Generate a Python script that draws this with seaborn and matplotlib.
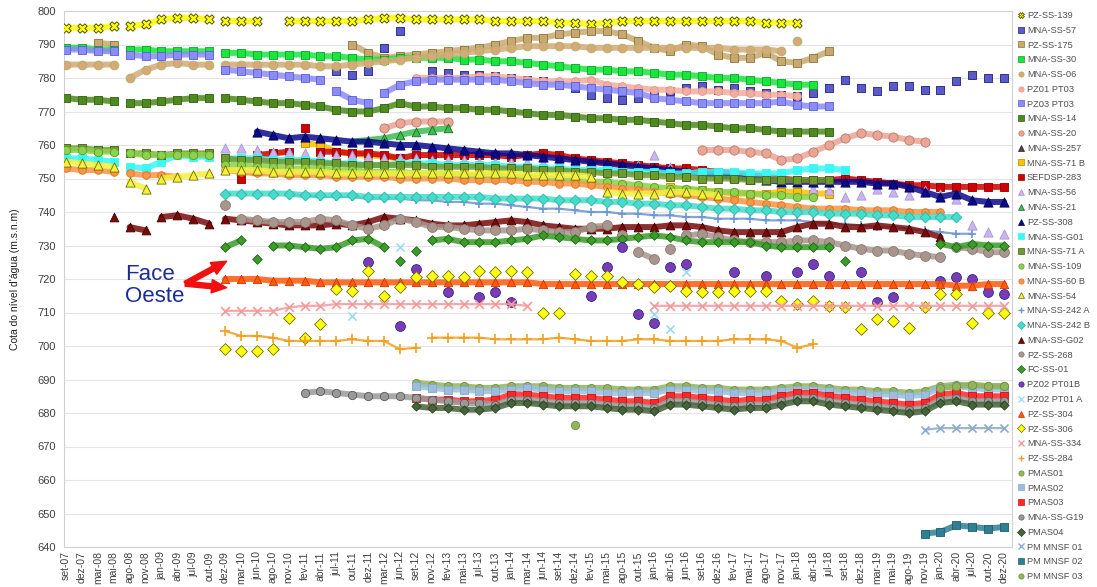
import numpy as np
import pandas as pd
import matplotlib
matplotlib.use("Agg")
import matplotlib.pyplot as plt
from matplotlib.lines import Line2D
import seaborn as sns

_ = None
N_DATES = 60

dates = ["set-07", "dez-07", "mar-08", "mai-08", "ago-08", "nov-08", "jan-09", "abr-09", "jul-09", "out-09",
         "dez-09", "mar-10", "jun-10", "ago-10", "nov-10", "fev-11", "abr-11", "jul-11", "out-11", "dez-11",
         "mar-12", "jun-12", "set-12", "nov-12", "fev-13", "mai-13", "jul-13", "out-13", "jan-14", "mar-14",
         "jun-14", "set-14", "dez-14", "fev-15", "mai-15", "ago-15", "out-15", "jan-16", "abr-16", "jun-16",
         "set-16", "dez-16", "fev-17", "mai-17", "ago-17", "nov-17", "jan-18", "abr-18", "jul-18", "set-18",
         "dez-18", "mar-19", "mai-19", "ago-19", "nov-19", "jan-20", "abr-20", "jul-20", "out-20", "dez-20"]

# survey campaigns ended after these dates (no continuity across them)
campaign_ends = ["mai-08", "out-09"]

pz_ss_139 = [795, 795, 795, 795.5, 795.5, 796, 797.5, 798, 798, 797.5,
             797, 797, 797, _, 797, 797, 797, 797, 797, 797.5,
             798, 798, 797.5, 797.5, 797.5, 797.5, 797.5, 797, 797, 797,
             797, 796.5, 796.5, 796, 796.5, 797, 797, 797, 797, 797,
             797, 797, 797, 797, 796.5, 796.5, 796.5]
mna_ss_57 = [_] * 17 + [782, 781, 782, 789, 794, _, 782, 781.5, 781, 781, 780.5, 780, 779.5,
                        779, 778, 777, 775, 774, 773.5, 774, 775, 776, 777,
                        777.5, 776.5, 777, 776, 775.5, 775, 774.5, 775.5, 777, 779.5,
                        777, 776, 777.5, 777.5, 776.5, 776.5, 779, 781, 780, 780]
pz_ss_175 = [_, _, 790.5, 790] + [_] * 14 + [790, 787.5, 786, 786.5, 787, 787.5, 788, 788.5, 789, 790, 791, 792,
                                           792, 793, 793.5, 794, 794, 793, 791, 789, 788, 790,
                                           789.5, 787, 786, 786, 787.5, 785, 784.5, 786, 788]
mna_ss_30 = [789, 789, 788.5, 788.5, 788.5, 788.5, 788, 788, 788, 788,
             787.5, 787.5, 787, 787, 787, 787, 786.5, 786.5, 786, 785.5,
             785.5, 786, 786, 786, 786, 785.5, 785.5, 785, 785, 784.5,
             784, 783.5, 783, 782.5, 782.5, 782, 782, 781.5, 781, 781,
             780.5, 780, 780, 779.5, 779, 778.5, 778, 778]
mna_ss_06 = [784, 784, 784, 784, 780, 782.5, 784, 784.5, 784, 784,
             784, 784, 784, 784, 784, 784, 783.5, 783.5, 784, 784.5,
             785, 785.5, 786, 786.5, 787, 787.5, 788, 788.5, 789, 789.5,
             789.5, 789.5, 789.5, 789, 789, 789, 789, 789, 789, 789,
             789, 789, 788.5, 788.5, 788.5, 788, 791]
pz01_pt03 = [_] * 22 + [780, 780, 780, 780, 780.5, 780.5, 780, 779.5,
                        779, 779, 779, 779.5, 778, 777.5, 777, 776.5, 776.5, 776,
                        776, 776, 775.5, 775.5, 775, 775, 774.5]
pz03_pt03 = [788.5, 788.5, 788, 788, 787, 786.5, 786.5, 787, 787, 787,
             782.5, 782, 781.5, 781, 780.5, 780, 779.5, 776, 773.5, 772.5,
             775.5, 778, 779, 779.5, 779.5, 779.5, 779.5, 779.5, 779, 778.5,
             778, 778, 777.5, 777, 776.5, 776, 775.5, 774, 773.5, 773,
             772.5, 772.5, 772.5, 772.5, 772.5, 773, 772, 771.5, 771.5]
mna_ss_14 = [774, 773.5, 773.5, 773, 772.5, 772.5, 773, 773.5, 774, 774,
             774, 773.5, 773, 772.5, 772.5, 772, 771.5, 770.5, 770, 770,
             771, 772.5, 771.5, 771.5, 771, 771, 770.5, 770.5, 770, 769.5,
             769, 769, 768.5, 768, 768, 767.5, 767.5, 767, 766.5, 766,
             766, 765.5, 765, 765, 764.5, 764, 764, 764, 764]
mna_ss_20 = [_] * 20 + [765, 766.5, 767, 767, 767] + [_] * 15 + [758.5, 758.5, 758.5, 758, 757.5, 755.5, 756, 758,
                                                                760, 762, 763.5, 763, 762.5, 761.5, 761]
mna_ss_257 = [_] * 32 + [755, 754.5, 754.5, 754, 754]
mna_ss_71b = [_] * 15 + [760.5, 760, 758, 757.5, 757, 756.5, 756] + [_] * 16 + [747.5, 746.5, 746.5, 746, 745.5,
                                                                              745.5, 745.5, 746, 746, 745.5, 745.5]
sefdsp_283 = [_] * 11 + [750, 757, 757.5, 758, 765, 758, 758, 757.5, 757.5,
                         757, 756, 757, 757, 757, 757, 757, 757, 756.5, 757,
                         757.5, 757, 756, 755.5, 755, 754.5, 754, 753.5, 753, 753,
                         752.5, 752, 751.5, 751, 750.5, 750, 749.5, 749.5, 749.5, 750,
                         749.5, 749, 748.5, 748, 748, 747.5, 747.5, 747.5, 747.5, 747.5]
mna_ss_56 = [_] * 10 + [759, 759, 758.5, 758, 758, 757.5, 757, 757, 757, 756.5,
                        756, 756, 756, 755.5, 755.5, 755.5, 755, 755, 755, 755,
                        754.5, 754.5, 754.5, 754, 754, _, 754, 757, 753.5, _,
                        _, _, _, _, _, _, _, 747, 746.5, 744.5,
                        745, 747, 746, 745, 746.5, 745.5, 744, 736, 734, 733.5]
mna_ss_21 = [_] * 18 + [761, 761.5, 762, 763, 764, 764.5, 765]
pz_ss_308 = [_] * 12 + [764, 763, 762, 762.5, 762, 761.5, 761, 761,
                        760.5, 760, 760, 759.5, 759, 758.5, 758, 757.5, 757.5, 757,
                        756.5, 756, 755.5, 755, 754.5, 754, 753.5, 753, 752.5, 752,
                        751.5, 751, 750.5, 750, 749.5, 749, 749, 749, 749, 749,
                        749, 748.5, 748.5, 747.5, 746, 744.5, 745.5, 743.5, 743, 743]
mna_ss_g01 = [756, 756, 755.5, 755, 753.5, 753, 755, 757, 756.5, 756.5,
              756, 756, 756, 755.5, 755.5, 755.5, 755, 754.5, 754.5, 754,
              754, 754.5, 754.5, 754.5, 754, 754, 754, 754, 753.5, 753.5,
              753, 753, 752.5, 752.5, 752.5, 752, 752, 752, 751.5, 751.5,
              752, 752, 752, 751.5, 751.5, 751.5, 752.5, 753, 753, 752.5]
mna_ss_71a = [759, 759, 758.5, 758.5, 757.5, 757.5, 757, 757.5, 757.5, 757.5,
              756, 755.5, 755.5, 755, 755, 755, 754.5, 754.5, 754, 754,
              754, 754, 754, 753.5, 753.5, 753.5, 753.5, 753, 753, 753,
              752.5, 752.5, 752, 752, 751.5, 751.5, 751, 751, 750.5, 750.5,
              750, 750, 750, 749.5, 749.5, 749.5, 749.5, 749.5, 749.5]
mna_ss_109 = [758.5, 758.5, 758, 758, 757.5, 757, 757, 757, 757, 757,
              754, 754, 753.5, 753.5, 753, 753, 753, 752.5, 752.5, 752,
              752, 752, 751.5, 751.5, 751.5, 751, 751, 751, 750.5, 750.5,
              750, 750, 749.5, 749, 749, 748.5, 748, 747.5, 747, 747,
              746.5, 746, 746, 745.5, 745, 745, 744.5, 744.5]
mna_ss_60b = [753, 752.5, 752.5, 752, 751.5, 751, 751, 750.5, _, _,
              752.5, 752, 751.5, 751.5, 751, 751, 751, 750.5, 750.5, 750.5,
              750.5, 750, 750, 750, 750, 749.5, 749.5, 749.5, 749.5, 749,
              749, 748.5, 748.5, 748, 747.5, 747, 746.5, 746, 745.5, 745,
              744.5, 744, 743.5, 743, 742.5, 742, 741.5, 741, 741, 741,
              740.5, 740.5, 740.5, 740, 740, 740]
mna_ss_54 = [755, 754.5, 754, 753.5, 749, 747, 750, 750.5, 751, 751.5,
             752.5, 752.5, 752.5, 752, 752, 752, 752, 751.5, 751.5, 751.5,
             751.5, 751.5, 751.5, 751.5, 751.5, 751.5, 751.5, 751.5, 751.5, 751,
             751, 751, 751, 750.5, 746, 745.5, 745.5, 745.5, 746, 746,
             745.5, 745]
mna_ss_242a = [_] * 14 + [745, 745, 744.5, 744.5, 744.5, 744,
                          744, 744, 743.5, 743.5, 743, 743, 742.5, 742.5, 742, 741.5,
                          741, 741, 740.5, 740, 740, 739.5, 739.5, 739, 739, 738.5,
                          738.5, 738, 738, 738, 737.5, 737.5, 737.5, 737, 736.5, 736.5,
                          736, 735.5, 735.5, 735, 734.5, 734, 733.5, 733.5]
mna_ss_242b = [_] * 10 + [745.5, 745.5, 745.5, 745.5, 745.5, 745, 745, 745, 745, 744.5,
                          744.5, 744.5, 744.5, 744.5, 744.5, 744.5, 744.5, 744, 744, 744,
                          744, 743.5, 743.5, 743.5, 743, 743, 742.5, 742.5, 742, 742,
                          741.5, 741, 741, 740.5, 740.5, 740, 740, 740, 739.5, 739.5,
                          739.5, 739, 739, 738.5, 738.5, 738.5, 738.5]
mna_ss_g02 = [_, _, _, 738.5, 735.5, 734.5, 738.5, 739, 738, 736.5,
              738, 737.5, 737, 736.5, 736, 736, 736, 736.5, 736, 737,
              738.5, 738, 737.5, 736.5, 736, 736, 736.5, 737, 737.5, 737,
              736, 735.5, 735, 735, 735, 735.5, 735.5, 735.5, 736, 736,
              735.5, 734.5, 734, 734, 734, 734, 735.5, 736.5, 736.5, 735.5,
              735.5, 736, 735.5, 735, 734, 732.5]
pz_ss_268 = [_] * 10 + [742, 738, 737.5, 737, 737, 737, 738, 737.5, 736, 735,
                        736, 738, 737, 735.5, 735.5, 735, 734.5, 734.5, 734.5, 735,
                        734.5, 734, 734, 735.5, 736, 733, 728, 726, 729, 733,
                        733.5, 732.5, 731.5, 731, 731, 731, 731.5, 731.5, 731, 730,
                        729, 728.5, 728.5, 727.5, 727, 726.5, 729.5, 729, 728, 728]
fc_ss_01 = [_] * 10 + [729.5, 731.5, 726, 730, 730, 729.5, 729, 729.5, 731.5, 732,
                       729.5, 725.5, 728.5, 731.5, 732, 731, 731, 731, 731.5, 732,
                       733, 732.5, 732, 731.5, 731.5, 732, 732.5, 733, 732.5, 731.5,
                       731, 731, 731, 731, 730, 729.5, 729.5, 729.5, 729.5, 725.5,
                       _, _, _, _, _, 730.5, 729.5, 730.5, 730, 730]
pz02_pt01b = [_] * 19 + [725,
                         _, 706, 723, _, 716, _, 714.5, 716, 713, _,
                         _, _, _, 715, 723.5, 729.5, 709.5, 707, 723.5, 724.5,
                         _, _, 722, _, 721, _, 722, 724.5, 721, _,
                         722, 713, 714.5, _, _, 719.5, 720.5, 720, 716, 715.5]
pz02_pt01a = [_] * 18 + [709, _, _, 729.5] + [_] * 15 + [709.5, 705, 722]
pz_ss_304 = [_] * 10 + [720, 720, 720, 719.5, 719.5, 719.5, 719, 719, 719, 719,
                        719, 719, 719, 719, 719, 719, 719, 719, 719, 719,
                        718.5, 718.5, 718.5, 718.5, 718.5, 718.5, 718.5, 718.5, 718.5, 718.5,
                        718.5, 718.5, 718.5, 718.5, 718.5, 718.5, 718.5, 718.5, 718.5, 718.5,
                        718.5, 718.5, 718.5, 718.5, 718.5, 718.5, 718, 718, 718.5, 718.5]
pz_ss_306 = [_] * 10 + [699, 698.5, 698.5, 699, 708.5, 702.5, 706.5, 717, 716.5, 722.5,
                        715, 717.5, 720.5, 721, 721, 720.5, 722.5, 722, 722.5, 722,
                        710, 710, 721.5, 721, 721, 719, 718.5, 717.5, 718, 716.5,
                        716, 716, 716.5, 716.5, 716.5, 713.5, 712.5, 713.5, 712, 711.5,
                        705, 708, 707.5, 705.5, 711.5, 715.5, 715.5, 707, 710, 710]
mna_ss_334 = [_] * 10 + [710.5, 710.5, 710.5, 710.5, 711.5, 712, 712, 712.5, 712.5, 712.5,
                         712.5, 712.5, 712.5, 712.5, 712.5, 712.5, 712.5, 712.5, 712.5, 712,
                         _, _, _, _, _, _, _, 712, 712, 712,
                         712, 712, 712, 712, 712, 712, 712, 712, 712, 712,
                         712, 712, 712, 712, 712, 712, 712, 712, 712, 712]
pz_ss_284 = [_] * 10 + [704.5, 703, 703, 702.5, 701.5, 701.5, 701.5, 701.5, 702, 701.5,
                        701.5, 699, 699.5, 702.5, 702.5, 702.5, 702.5, 702, 702, 702,
                        702, 702.5, 702, 701.5, 701.5, 701.5, 702, 702, 701.5, 701.5,
                        701.5, 701.5, 702, 702, 702, 701.5, 699.5, 700.5]
pmas01 = [_] * 22 + [689, 688.5, 688, 688, 687.5, 687.5, 688, 688,
                     688, 687.5, 687.5, 687.5, 687.5, 687, 687, 687, 688, 688,
                     687.5, 687.5, 687, 687, 687, 687.5, 688, 688, 687.5, 687,
                     687, 686.5, 686.5, 686, 686.5, 688, 688.5, 688, 688, 688]
pmas02 = [_] * 22 + [688, 687.5, 687, 687, 686.5, 686.5, 687, 687.5,
                     687, 686.5, 686.5, 686.5, 686, 686, 686, 686, 687, 687,
                     686.5, 686.5, 686, 686, 686, 686.5, 687, 687, 686.5, 686,
                     686, 685.5, 685.5, 685, 685.5, 687.5, 688, 687.5, 687, 687]
pmas03 = [_] * 22 + [684.5, 684, 684, 683.5, 683.5, 684, 685.5, 685.5,
                     685, 684.5, 684.5, 684.5, 684, 683.5, 683.5, 683, 685, 685,
                     684.5, 684, 683.5, 684, 684, 685, 686, 686, 685, 684.5,
                     684, 683.5, 683, 682.5, 683, 685.5, 686, 685, 685, 685]
mna_ss_g19 = [_] * 15 + [686, 686.5, 686, 685.5, 685, 685, 685, 684.5, 684, 683.5, 683, 683, 682.5, 684, 684,
                         683.5, 683, 683, 683, 682.5, 682, 682, 681.5, 683.5, 683.5,
                         683, 682.5, 682, 682.5, 682.5, 683.5, 684.5, 684.5, 683.5, 683,
                         682.5, 682, 681.5, 681, 681.5, 684, 684.5, 683.5, 683.5, 683.5]
pmas04 = [_] * 22 + [682, 681.5, 681.5, 681, 681, 681.5, 683, 683,
                     682.5, 682, 682, 682, 681.5, 681, 681, 680.5, 682.5, 682.5,
                     682, 681.5, 681, 681.5, 681.5, 682.5, 683.5, 683.5, 682.5, 682,
                     681.5, 681, 680.5, 680, 680.5, 683, 683.5, 682.5, 682.5, 682.5]
pm_mnsf_01 = [_] * 54 + [675, 675.5, 675.5, 675.5, 675.5, 675.5]
pm_mnsf_02 = [_] * 54 + [644, 644.5, 646.5, 646, 645.5, 646]
pm_mnsf_03 = [_] * 32 + [676.5] + [_] * 22 + [687.5, 688, 688.5, 688, 688]

series = [
    ("PZ-SS-139", pz_ss_139), ("MNA-SS-57", mna_ss_57), ("PZ-SS-175", pz_ss_175),
    ("MNA-SS-30", mna_ss_30), ("MNA-SS-06", mna_ss_06), ("PZ01 PT03", pz01_pt03),
    ("PZ03 PT03", pz03_pt03), ("MNA-SS-14", mna_ss_14), ("MNA-SS-20", mna_ss_20),
    ("MNA-SS-257", mna_ss_257), ("MNA-SS-71 B", mna_ss_71b), ("SEFDSP-283", sefdsp_283),
    ("MNA-SS-56", mna_ss_56), ("MNA-SS-21", mna_ss_21), ("PZ-SS-308", pz_ss_308),
    ("MNA-SS-G01", mna_ss_g01), ("MNA-SS-71 A", mna_ss_71a), ("MNA-SS-109", mna_ss_109),
    ("MNA-SS-60 B", mna_ss_60b), ("MNA-SS-54", mna_ss_54), ("MNA-SS-242 A", mna_ss_242a),
    ("MNA-SS-242 B", mna_ss_242b), ("MNA-SS-G02", mna_ss_g02), ("PZ-SS-268", pz_ss_268),
    ("FC-SS-01", fc_ss_01), ("PZ02 PT01B", pz02_pt01b), ("PZ02 PT01 A", pz02_pt01a),
    ("PZ-SS-304", pz_ss_304), ("PZ-SS-306", pz_ss_306), ("MNA-SS-334", mna_ss_334),
    ("PZ-SS-284", pz_ss_284), ("PMAS01", pmas01), ("PMAS02", pmas02), ("PMAS03", pmas03),
    ("MNA-SS-G19", mna_ss_g19), ("PMAS04", pmas04), ("PM MNSF 01", pm_mnsf_01),
    ("PM MNSF 02", pm_mnsf_02), ("PM MNSF 03", pm_mnsf_03),
]

# style: marker, face colour, edge colour, marker area, draw as band
STYLE = {
    "PZ-SS-139": ("X", "#FFFF00", "#3C3C00", 46, True),
    "MNA-SS-57": ("s", "#5A5AC8", "#1E1E78", 38, False),
    "PZ-SS-175": ("s", "#C8A870", "#8C7438", 36, True),
    "MNA-SS-30": ("s", "#19E63C", "#0FA02A", 36, True),
    "MNA-SS-06": ("o", "#D8A878", "#A3B860", 40, True),
    "PZ01 PT03": ("o", "#F2AE9E", "#E8958A", 32, True),
    "PZ03 PT03": ("s", "#8C8CF5", "#5A5AE0", 34, True),
    "MNA-SS-14": ("s", "#4E8A1E", "#2F5F10", 38, True),
    "MNA-SS-20": ("o", "#EBA595", "#B87A6A", 44, True),
    "MNA-SS-257": ("^", "#4A4A4A", "#202020", 30, False),
    "MNA-SS-71 B": ("s", "#FFC000", "#B88A00", 40, True),
    "SEFDSP-283": ("s", "#D00000", "#8C0000", 38, True),
    "MNA-SS-56": ("^", "#C9B5EC", "#A996D8", 44, False),
    "MNA-SS-21": ("^", "#3CBE50", "#1F6B2E", 38, True),
    "PZ-SS-308": ("^", "#0A0A8C", "#000050", 44, True),
    "MNA-SS-G01": ("s", "#3CF5F5", "#3CF5F5", 36, True),
    "MNA-SS-71 A": ("s", "#6E9A2E", "#3F5F1A", 36, True),
    "MNA-SS-109": ("o", "#8CD24A", "#5F9A2E", 36, True),
    "MNA-SS-60 B": ("o", "#F79646", "#E07020", 30, True),
    "MNA-SS-54": ("^", "#F5F03C", "#6E6E00", 44, True),
    "MNA-SS-242 A": ("+", "#6E96D2", "#6E96D2", 40, True),
    "MNA-SS-242 B": ("D", "#46DCCB", "#2DB4A5", 30, True),
    "MNA-SS-G02": ("^", "#7A0A0A", "#3C0000", 40, True),
    "PZ-SS-268": ("o", "#A8968E", "#8C7870", 50, True),
    "FC-SS-01": ("D", "#3C9C28", "#1F641A", 24, True),
    "PZ02 PT01B": ("o", "#7A3CB4", "#28288C", 50, False),
    "PZ02 PT01 A": ("x", "#9ADCF5", "#9ADCF5", 34, False),
    "PZ-SS-304": ("^", "#FF5A0A", "#D23200", 36, True),
    "PZ-SS-306": ("D", "#FFFF14", "#6E6E00", 36, False),
    "MNA-SS-334": ("x", "#F59A9A", "#F59A9A", 40, True),
    "PZ-SS-284": ("+", "#F0A01E", "#F0A01E", 48, True),
    "PMAS01": ("o", "#92B45A", "#6E9040", 34, True),
    "PMAS02": ("s", "#9CBEDC", "#82A8CC", 32, True),
    "PMAS03": ("s", "#FF2828", "#DC0A0A", 34, True),
    "MNA-SS-G19": ("o", "#9A9A9A", "#5A5A5A", 36, True),
    "PMAS04": ("D", "#46643A", "#2A4020", 22, True),
    "PM MNSF 01": ("x", "#8CAAD2", "#8CAAD2", 34, True),
    "PM MNSF 02": ("s", "#2E7F96", "#1E5F70", 36, True),
    "PM MNSF 03": ("o", "#92B45A", "#6E9040", 36, True),
}

sns.set_theme(style="white")
plt.rcParams["font.family"] = ["Liberation Sans", "DejaVu Sans"]

W, H = 1097, 587
fig = plt.figure(figsize=(W / 100, H / 100), dpi=100)
L, R, T, B = 64, 1012, 11, 547
ax = fig.add_axes([L / W, 1 - B / H, (R - L) / W, (B - T) / H])

xidx = np.arange(N_DATES, dtype=float)
break_after = [dates.index(d) for d in campaign_ends]


def band_xy(y):
    xs, ys = [], []
    for i in range(len(y)):
        if i > 0 and ((i - 1) in break_after or abs(y[i] - y[i - 1]) > 2.5):
            xs.append(np.nan)
            ys.append(np.nan)
        xs.append(xidx[i])
        ys.append(y[i])
    return xs, ys


handles = []
for k, (name, vals) in enumerate(series):
    vals = list(vals) + [None] * (N_DATES - len(vals))
    y = np.array([np.nan if v is None else v for v in vals], dtype=float)
    m, fc, ec, s, band = STYLE[name]
    z = 3 + k * 0.02
    if band:
        bx, by = band_xy(y)
        lw = 1.6 if m in ("x", "+") else 4.3
        ax.plot(bx, by, color=fc, lw=lw, alpha=0.85, zorder=z, solid_capstyle="round")
    df = pd.DataFrame({"data": xidx, "cota": y}).dropna()
    if m in ("x", "+"):
        sns.scatterplot(data=df, x="data", y="cota", marker=m, s=s, color=fc,
                        linewidth=1.2, ax=ax, zorder=z + 0.01, legend=False)
        h = Line2D([], [], ls="", marker=m, color=fc, markersize=3.8, markeredgewidth=1)
    else:
        sns.scatterplot(data=df, x="data", y="cota", marker=m, s=s, color=fc,
                        edgecolor=ec, linewidth=0.6, ax=ax, zorder=z + 0.01, legend=False)
        h = Line2D([], [], ls="", marker=m, markerfacecolor=fc, markeredgecolor=ec,
                   markersize=3.8, markeredgewidth=0.5)
    handles.append(h)

ax.set_xlim(-0.13, 59.5)
ax.set_ylim(640, 800)
ax.set_yticks(np.arange(640, 801, 10))
ax.set_xticks(xidx)
ax.set_xticklabels(dates, rotation=90, fontsize=7.5, color="#404040")
ax.tick_params(axis="y", labelsize=8, colors="#404040", length=0, pad=6)
ax.tick_params(axis="x", length=0, pad=3)
ax.set_xlabel("")
ax.set_ylabel("Cota do nível d'água (m.s.n.m)", fontsize=7.5, color="#202020")
ax.yaxis.set_label_coords(-(L - 20) / (R - L), 0.5)
ax.yaxis.grid(True, color="#E4E4E4", lw=0.8)
ax.xaxis.grid(False)
ax.set_axisbelow(True)
for sp in ax.spines.values():
    sp.set_color("#D0D0D0")
    sp.set_linewidth(0.8)

ax.text(3.7, 718, "Face\nOeste", fontsize=16, color="#1A2C96", ha="left", va="center",
        linespacing=1.05, zorder=10)
arrow = dict(arrowstyle="simple,head_width=0.8,head_length=0.9,tail_width=0.3",
             color="#F01010", shrinkA=0, shrinkB=0)
ax.annotate("", xy=(10.1, 725.3), xytext=(7.5, 718.6), arrowprops=arrow, zorder=10)
ax.annotate("", xy=(10.1, 717.4), xytext=(7.5, 718.6), arrowprops=arrow, zorder=10)

fig.legend(handles, [n for n, _v in series], loc="upper left",
           bbox_to_anchor=(1019 / W, 1 - 11 / H), frameon=False, fontsize=6.7,
           handlelength=0.5, handletextpad=0.35, labelspacing=0.62,
           borderaxespad=0, borderpad=0, labelcolor="#505050")

fig.savefig("out.png", dpi=100)
